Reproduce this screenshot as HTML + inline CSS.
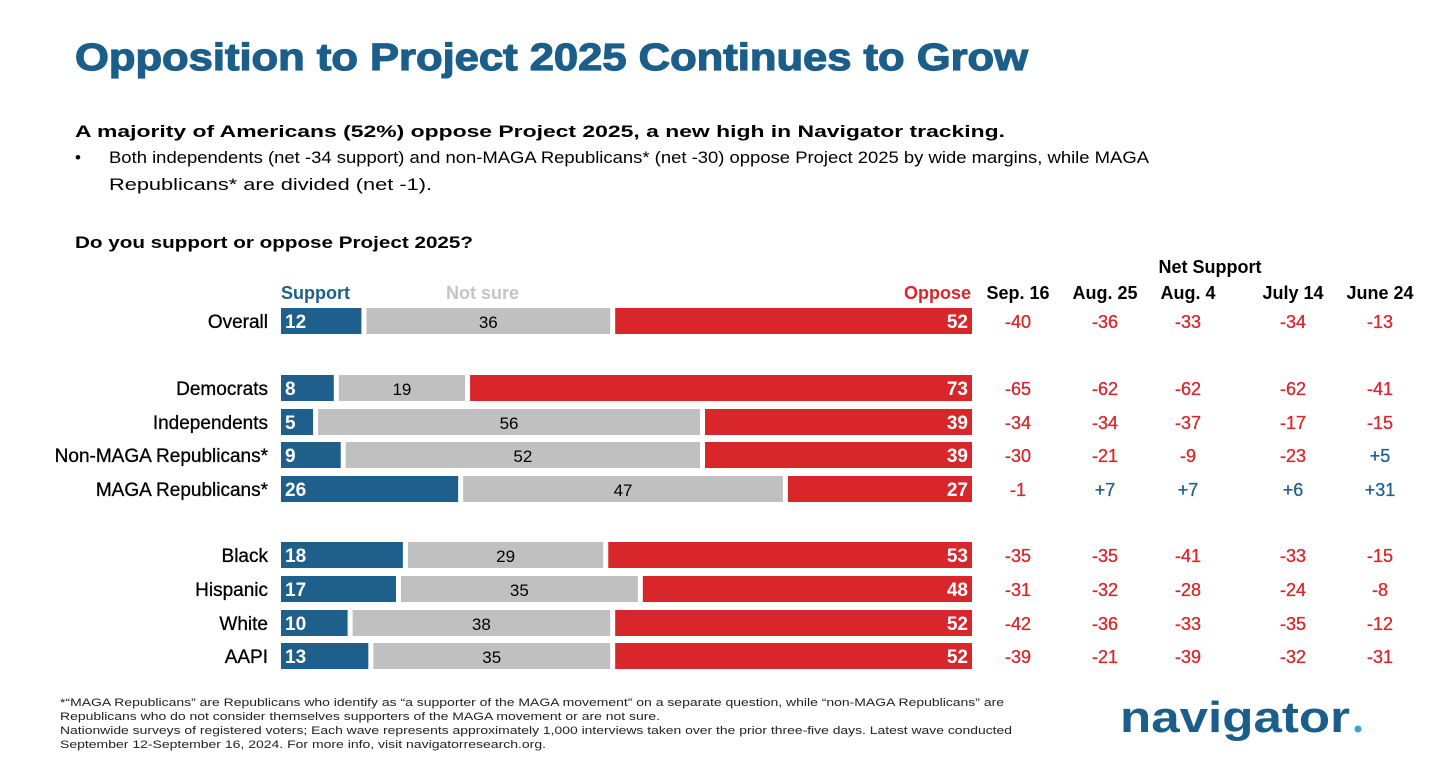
<!DOCTYPE html>
<html><head><meta charset="utf-8"><style>
body{margin:0;background:#fff;}
svg{display:block;font-family:"Liberation Sans",sans-serif;}
</style></head><body>
<svg id="c" width="1456" height="783" viewBox="0 0 1456 783">
<text x="75" y="70" font-size="38" font-weight="bold" fill="#1b5e8a" stroke="#1b5e8a" stroke-width="1.2" textLength="953" lengthAdjust="spacingAndGlyphs">Opposition to Project 2025 Continues to Grow</text>
<text x="75" y="137" font-size="17" font-weight="bold" fill="#000" textLength="930" lengthAdjust="spacingAndGlyphs">A majority of Americans (52%) oppose Project 2025, a new high in Navigator tracking.</text>
<text x="75" y="163" font-size="17" fill="#000">•</text>
<text x="109" y="163" font-size="17" fill="#000" textLength="1040" lengthAdjust="spacingAndGlyphs">Both independents (net -34 support) and non-MAGA Republicans* (net -30) oppose Project 2025 by wide margins, while MAGA</text>
<text x="109" y="190" font-size="17" fill="#000" textLength="323" lengthAdjust="spacingAndGlyphs">Republicans* are divided (net -1).</text>
<text x="75" y="248" font-size="16.5" font-weight="bold" fill="#000" textLength="398" lengthAdjust="spacingAndGlyphs">Do you support or oppose Project 2025?</text>
<text x="281" y="299" font-size="18" font-weight="bold" fill="#1f5f8b">Support</text>
<text x="446" y="299" font-size="18" font-weight="bold" fill="#c4c4c4">Not sure</text>
<text x="971" y="299" font-size="18" font-weight="bold" fill="#d9262b" text-anchor="end">Oppose</text>
<text x="1210" y="273" font-size="18" font-weight="bold" fill="#000" text-anchor="middle">Net Support</text>
<g id="bars"></g>
<g id="net"></g>
<g font-size="11" fill="#222">
<text x="60" y="706" textLength="944" lengthAdjust="spacingAndGlyphs">*“MAGA Republicans” are Republicans who identify as “a supporter of the MAGA movement” on a separate question, while “non-MAGA Republicans” are</text>
<text x="60" y="720" textLength="600" lengthAdjust="spacingAndGlyphs">Republicans who do not consider themselves supporters of the MAGA movement or are not sure.</text>
<text x="60" y="734" textLength="952" lengthAdjust="spacingAndGlyphs">Nationwide surveys of registered voters; Each wave represents approximately 1,000 interviews taken over the prior three-five days. Latest wave conducted</text>
<text x="60" y="748" textLength="486" lengthAdjust="spacingAndGlyphs">September 12-September 16, 2024. For more info, visit navigatorresearch.org.</text>
</g>
<text x="1120" y="732" font-size="44" font-weight="bold" fill="#1b5e8a" textLength="230" lengthAdjust="spacingAndGlyphs">navigator</text>
<circle cx="1358" cy="729" r="3.5" fill="#3aa0d8"/>
</svg>
<script>
const categories=["Overall","Democrats","Independents","Non-MAGA Republicans*","MAGA Republicans*","Black","Hispanic","White","AAPI"];
const support=[12,8,5,9,26,18,17,10,13];
const notSure=[36,19,56,52,47,29,35,38,35];
const oppose=[52,73,39,39,27,53,48,52,52];
const waves=["Sep. 16","Aug. 25","Aug. 4","July 14","June 24"];
const net0=[-40,-65,-34,-30,-1,-35,-31,-42,-39];
const net1=[-36,-62,-34,-21,7,-35,-32,-36,-21];
const net2=[-33,-62,-37,-9,7,-41,-28,-33,-39];
const net3=[-34,-62,-17,-23,6,-33,-24,-35,-32];
const net4=[-13,-41,-15,5,31,-15,-8,-12,-31];
const nets=[net0,net1,net2,net3,net4];
const NS="http://www.w3.org/2000/svg";
const x0=281,x1=972,gap=5,bh=26;
const rowY=[321,388,422,455,489,555,589,623,656];
const colX=[1018,1105,1188,1293,1380];
const sx=v=>v*(x1-x0)/100;
const bars=document.getElementById('bars'),netG=document.getElementById('net');
function mk(tag,attrs,parent){const e=document.createElementNS(NS,tag);for(const k in attrs)e.setAttribute(k,attrs[k]);parent.appendChild(e);return e;}
categories.forEach((c,i)=>{
  const y=rowY[i];
  const lab=mk('text',{x:268,y:y+7,'font-size':19,'text-anchor':'end',fill:'#000',stroke:'#000','stroke-width':0.3},bars);
  lab.textContent=c;
  
  
  const segs=[[support[i],'#1f5f8b','#fff','start'],[notSure[i],'#c0c0c0','#000','middle'],[oppose[i],'#d9262b','#fff','end']];
  let x=x0;
  segs.forEach((s,j)=>{
    const w=sx(s[0]);
    const r=mk('rect',{x:x+(j>0?gap/2:0),y:y-bh/2,width:Math.max(0,w-(j===1?gap:gap/2)),height:bh,fill:s[1]},bars);
    
    
    let tx=j===0?x+4:j===1?x+w/2:x+w-4;
    const t=mk('text',{x:tx,y:y+7,'font-size':j===1?17:19,'font-weight':j===1?'normal':'bold',fill:s[2],'text-anchor':s[3]},bars);
    t.textContent=s[0];
    
    
    x+=w;
  });
  nets.forEach((arr,k)=>{
    const v=arr[i];
    const col=v>0?'#1f5f8b':'#d9262b';
    const t=mk('text',{x:colX[k],y:y+7,'font-size':18,'text-anchor':'middle',fill:col,stroke:col,'stroke-width':0.3},netG);
    t.textContent=v>0?'+'+v:String(v);
    
    
  });
});
waves.forEach((w,k)=>{
  const t=mk('text',{x:colX[k],y:299,'font-size':18,'font-weight':'bold','text-anchor':'middle',fill:'#000'},netG);
  t.textContent=w;
  
  
});
</script>
</body></html>
